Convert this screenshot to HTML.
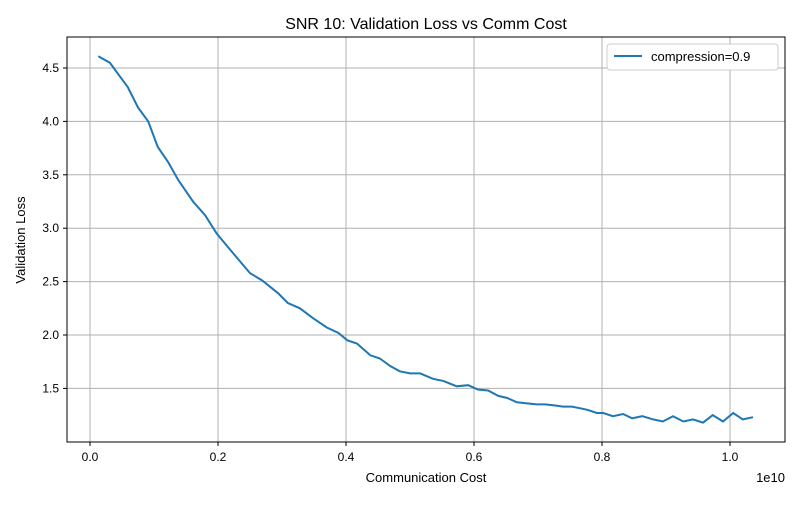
<!DOCTYPE html>
<html><head><meta charset="utf-8"><style>
body{margin:0;background:#fff;font-family:"Liberation Sans",sans-serif}
svg text{font-family:"Liberation Sans","DejaVu Sans",sans-serif;fill:#000}
</style></head><body>
<svg id="chart" width="800" height="500" viewBox="0 0 800 500" xmlns="http://www.w3.org/2000/svg">
<rect width="800" height="500" fill="#fff"/>
<text x="426" y="29" font-size="16" text-anchor="middle">SNR 10: Validation Loss vs Comm Cost</text>
<g id="grid"></g><g id="ticks"></g>
<path id="line" fill="none" stroke="#1f77b4" stroke-width="2"/>
<rect x="67" y="37" width="718" height="405" fill="none" stroke="#000" stroke-width="1"/>
<text x="426" y="482" font-size="13" text-anchor="middle">Communication Cost</text>
<text x="785" y="482" font-size="13" text-anchor="end">1e10</text>
<text x="25" y="240" font-size="13" text-anchor="middle" transform="rotate(-90 25 240)">Validation Loss</text>
<g>
<rect x="607" y="44" width="171" height="26" rx="3" fill="#fff" stroke="#ccc"/>
<line x1="614" y1="56" x2="642" y2="56" stroke="#1f77b4" stroke-width="2"/>
<text x="651" y="61" font-size="13">compression=0.9</text>
</g>
</svg>
<script>
const xTicks=[0,0.2,0.4,0.6,0.8,1.0];
const xTickLabels=["0.0","0.2","0.4","0.6","0.8","1.0"];
const yTicks=[1.5,2.0,2.5,3.0,3.5,4.0,4.5];
const yTickLabels=["1.5","2.0","2.5","3.0","3.5","4.0","4.5"];
const costs=[0.013,0.031,0.059,0.075,0.091,0.106,0.122,0.138,0.161,0.180,0.198,0.216,0.250,0.269,0.294,0.309,0.328,0.348,0.370,0.388,0.402,0.417,0.438,0.453,0.469,0.484,0.500,0.516,0.536,0.552,0.573,0.591,0.606,0.622,0.638,0.652,0.667,0.683,0.698,0.711,0.727,0.739,0.753,0.769,0.777,0.792,0.802,0.817,0.833,0.847,0.863,0.880,0.895,0.911,0.927,0.942,0.958,0.973,0.989,1.005,1.020,1.036];
const losses=[4.61,4.55,4.32,4.13,4.00,3.76,3.62,3.45,3.25,3.12,2.95,2.82,2.58,2.51,2.39,2.30,2.25,2.16,2.07,2.02,1.95,1.92,1.81,1.78,1.71,1.66,1.64,1.64,1.59,1.57,1.52,1.53,1.49,1.48,1.43,1.41,1.37,1.36,1.35,1.35,1.34,1.33,1.33,1.31,1.30,1.27,1.27,1.24,1.26,1.22,1.24,1.21,1.19,1.24,1.19,1.21,1.18,1.25,1.19,1.27,1.21,1.23];
const X=v=>90+v*640;
const Y=v=>68+(4.5-v)*106.8;
const NS="http://www.w3.org/2000/svg";
const grid=document.getElementById('grid'),ticks=document.getElementById('ticks');
function mk(tag,attrs,parent){const e=document.createElementNS(NS,tag);for(const k in attrs)e.setAttribute(k,attrs[k]);parent.appendChild(e);return e;}
xTicks.forEach((t,i)=>{
 const g=mk('line',{x1:X(t),x2:X(t),y1:37,y2:442,stroke:'#b0b0b0','stroke-width':1},grid);
 
 
 mk('line',{x1:X(t),x2:X(t),y1:442,y2:446,stroke:'#000'},ticks);
 const tx=mk('text',{x:X(t),y:461,'font-size':12,'text-anchor':'middle'},ticks);
 tx.textContent=xTickLabels[i];
 
 
});
yTicks.forEach((t,i)=>{
 const g=mk('line',{x1:67,x2:785,y1:Y(t),y2:Y(t),stroke:'#b0b0b0','stroke-width':1},grid);
 
 
 mk('line',{x1:63,x2:67,y1:Y(t),y2:Y(t),stroke:'#000'},ticks);
 const tx=mk('text',{x:59,y:Y(t)+4,'font-size':12,'text-anchor':'end'},ticks);
 tx.textContent=yTickLabels[i];
 
 
});
document.getElementById('line').setAttribute('d',costs.map((c,i)=>(i?'L':'M')+X(c).toFixed(1)+' '+Y(losses[i]).toFixed(1)).join(' '));
</script>
</body></html>
